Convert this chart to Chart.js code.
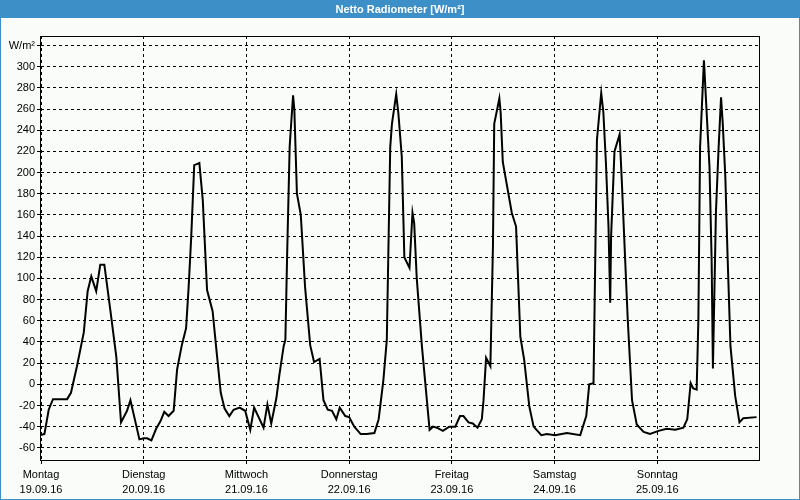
<!DOCTYPE html>
<html>
<head>
<meta charset="utf-8">
<script src="https://cdn.jsdelivr.net/npm/chart.js@4/dist/chart.umd.min.js"></script>
<style>
html,body{margin:0;padding:0;background:#f9fcf9;}
canvas{display:block;}
</style>
</head>
<body>
<canvas id="c" width="800" height="500" style="width:800px;height:500px"></canvas>
<script>
// ---- data (hours since Monday 00:00, W/m²) ----
const hours = [0,0.8,1.8,2.8,6.1,7.0,8.4,10.0,10.9,11.75,12.9,13.85,14.8,16.2,17.6,18.7,20.1,20.9,23.0,24.0,24.8,25.8,26.9,27.9,28.8,29.8,31.0,31.8,32.9,33.9,34.5,35.1,35.8,36.4,37.0,37.8,38.8,40.1,40.9,42.0,42.9,44.0,45.0,46.4,47.7,48.9,49.8,52.0,52.9,53.8,55.0,55.7,56.7,57.1,57.5,58.1,58.4,58.9,59.2,59.8,60.7,61.7,62.9,63.8,65.1,66.0,67.0,68.0,69.0,69.8,71.1,72.0,73.2,74.7,76.1,77.9,78.9,80.0,80.8,81.6,82.0,83.0,83.5,84.3,84.7,84.9,86.1,86.8,87.2,87.8,89.0,90.8,91.6,92.5,93.9,95.4,96.8,97.9,98.7,99.9,100.9,102.0,103.0,103.4,104.0,105.0,105.6,105.9,107.1,107.4,107.9,110.0,111.0,112.0,112.9,114.1,115.1,116.9,118.2,120.1,122.9,126.0,127.4,128.1,129.1,129.5,129.9,130.9,131.4,132.0,132.6,133.0,133.2,134.0,135.2,135.7,136.5,137.1,138.1,139.2,140.8,142.3,144.3,146.2,148.2,150.1,151.0,151.8,152.4,153.2,153.6,154.0,154.9,156.2,156.7,157.0,157.7,158.3,158.9,159.3,159.9,160.4,161.1,162.2,163.2,164.1,167.2];
const values = [-48,-47,-24,-14,-14,-8,17,49,88,102,88,113,113,70,26,-36,-25,-15,-52,-51,-51,-53,-42,-35,-26,-30,-25,14,37,53,92,139,207,208,209,174,89,69,36,-8,-23,-30,-24,-22,-25,-43,-22,-41,-19,-37,-13,9,36,42,120,224,243,273,259,180,160,92,37,21,24,-15,-24,-25,-33,-22,-30,-31,-40,-47,-47,-46,-33,4,42,224,246,274,256,215,152,120,110,162,152,100,36,-43,-40,-41,-44,-40,-40,-30,-30,-36,-37,-41,-33,-15,25,17,130,246,270,257,210,162,149,45,23,-21,-40,-48,-47,-48,-46,-48,-30,0,1,117,231,275,257,209,149,77,139,220,236,193,117,61,-15,-38,-45,-47,-44,-42,-43,-41,-33,1,-4,-5,61,224,306,205,117,15,162,221,271,246,196,124,36,-11,-36,-32,-31];
const dayHours = [0,24,48,72,96,120,144];
const dayNames = ['Montag','Dienstag','Mittwoch','Donnerstag','Freitag','Samstag','Sonntag'];
const dayDates = ['19.09.16','20.09.16','21.09.16','22.09.16','23.09.16','24.09.16','25.09.16'];
const yTickValues = [-60,-40,-20,0,20,40,60,80,100,120,140,160,180,200,220,240,260,280,300,320];
const unitLabel = 'W/m²';
const titleText = 'Netto Radiometer [W/m²]';

const BLUE = '#3c90c7';
const BG = '#f9fcf9';

const framePlugin = {
  id: 'frame',
  beforeDraw(chart) {
    const ctx = chart.ctx;
    ctx.save();
    ctx.fillStyle = BG;
    ctx.fillRect(0, 0, chart.width, chart.height);
    ctx.fillStyle = BLUE;
    ctx.fillRect(0, 0, chart.width, 18);
    ctx.fillStyle = '#ffffff';
    ctx.font = 'bold 11px "Liberation Sans", Arial, sans-serif';
    ctx.textAlign = 'center';
    ctx.textBaseline = 'middle';
    ctx.fillText(titleText, chart.width / 2, 9.5);
    ctx.restore();
  },
  afterDraw(chart) {
    const ctx = chart.ctx;
    const a = chart.chartArea;
    ctx.save();
    ctx.setLineDash([]);
    ctx.strokeStyle = '#000';
    ctx.lineWidth = 1;
    ctx.strokeRect(Math.round(a.left) - 0.5, Math.round(a.top) + 0.5, Math.round(a.right - a.left) + 0, Math.round(a.bottom - a.top));
    ctx.strokeStyle = BLUE;
    ctx.strokeRect(0.5, 0.5, chart.width - 1, chart.height - 1);
    ctx.restore();
  }
};

const tickFont = { family: '"Liberation Sans", Arial, sans-serif', size: 11, lineHeight: 1.4 };

new Chart(document.getElementById('c'), {
  type: 'line',
  data: {
    datasets: [{
      data: hours.map((h, i) => ({ x: h, y: values[i] })),
      borderColor: '#000',
      borderWidth: 2,
      pointRadius: 0,
      tension: 0,
      fill: false
    }]
  },
  options: {
    responsive: false,
    devicePixelRatio: 1,
    animation: false,
    events: [],
    layout: { padding: { top: 36, right: 40, left: 0, bottom: 0 } },
    plugins: { legend: { display: false }, tooltip: { enabled: false }, title: { display: false } },
    scales: {
      x: {
        type: 'linear',
        min: 0,
        max: 168,
        afterBuildTicks(scale) { scale.ticks = dayHours.map(v => ({ value: v })); },
        afterFit(scale) { scale.height = 40; },
        ticks: {
          autoSkip: false,
          maxRotation: 0,
          padding: 3,
          color: '#000',
          font: tickFont,
          callback(value, index) { return [dayNames[index], dayDates[index]]; }
        },
        grid: { color: '#000', lineWidth: 1, tickLength: 4, tickColor: '#000', tickBorderDash: [] },
        border: { display: false, dash: [3, 3] }
      },
      y: {
        type: 'linear',
        min: -71.5,
        max: 329,
        afterBuildTicks(scale) { scale.ticks = yTickValues.map(v => ({ value: v })); },
        afterFit(scale) { scale.width = 41; },
        ticks: {
          padding: 2,
          color: '#000',
          font: tickFont,
          callback(value) { return value === 320 ? unitLabel : String(value); }
        },
        grid: { color: '#000', lineWidth: 1, tickLength: 4, tickColor: '#000', tickBorderDash: [] },
        border: { display: false, dash: [3, 3] }
      }
    }
  },
  plugins: [framePlugin]
});
</script>
</body>
</html>
